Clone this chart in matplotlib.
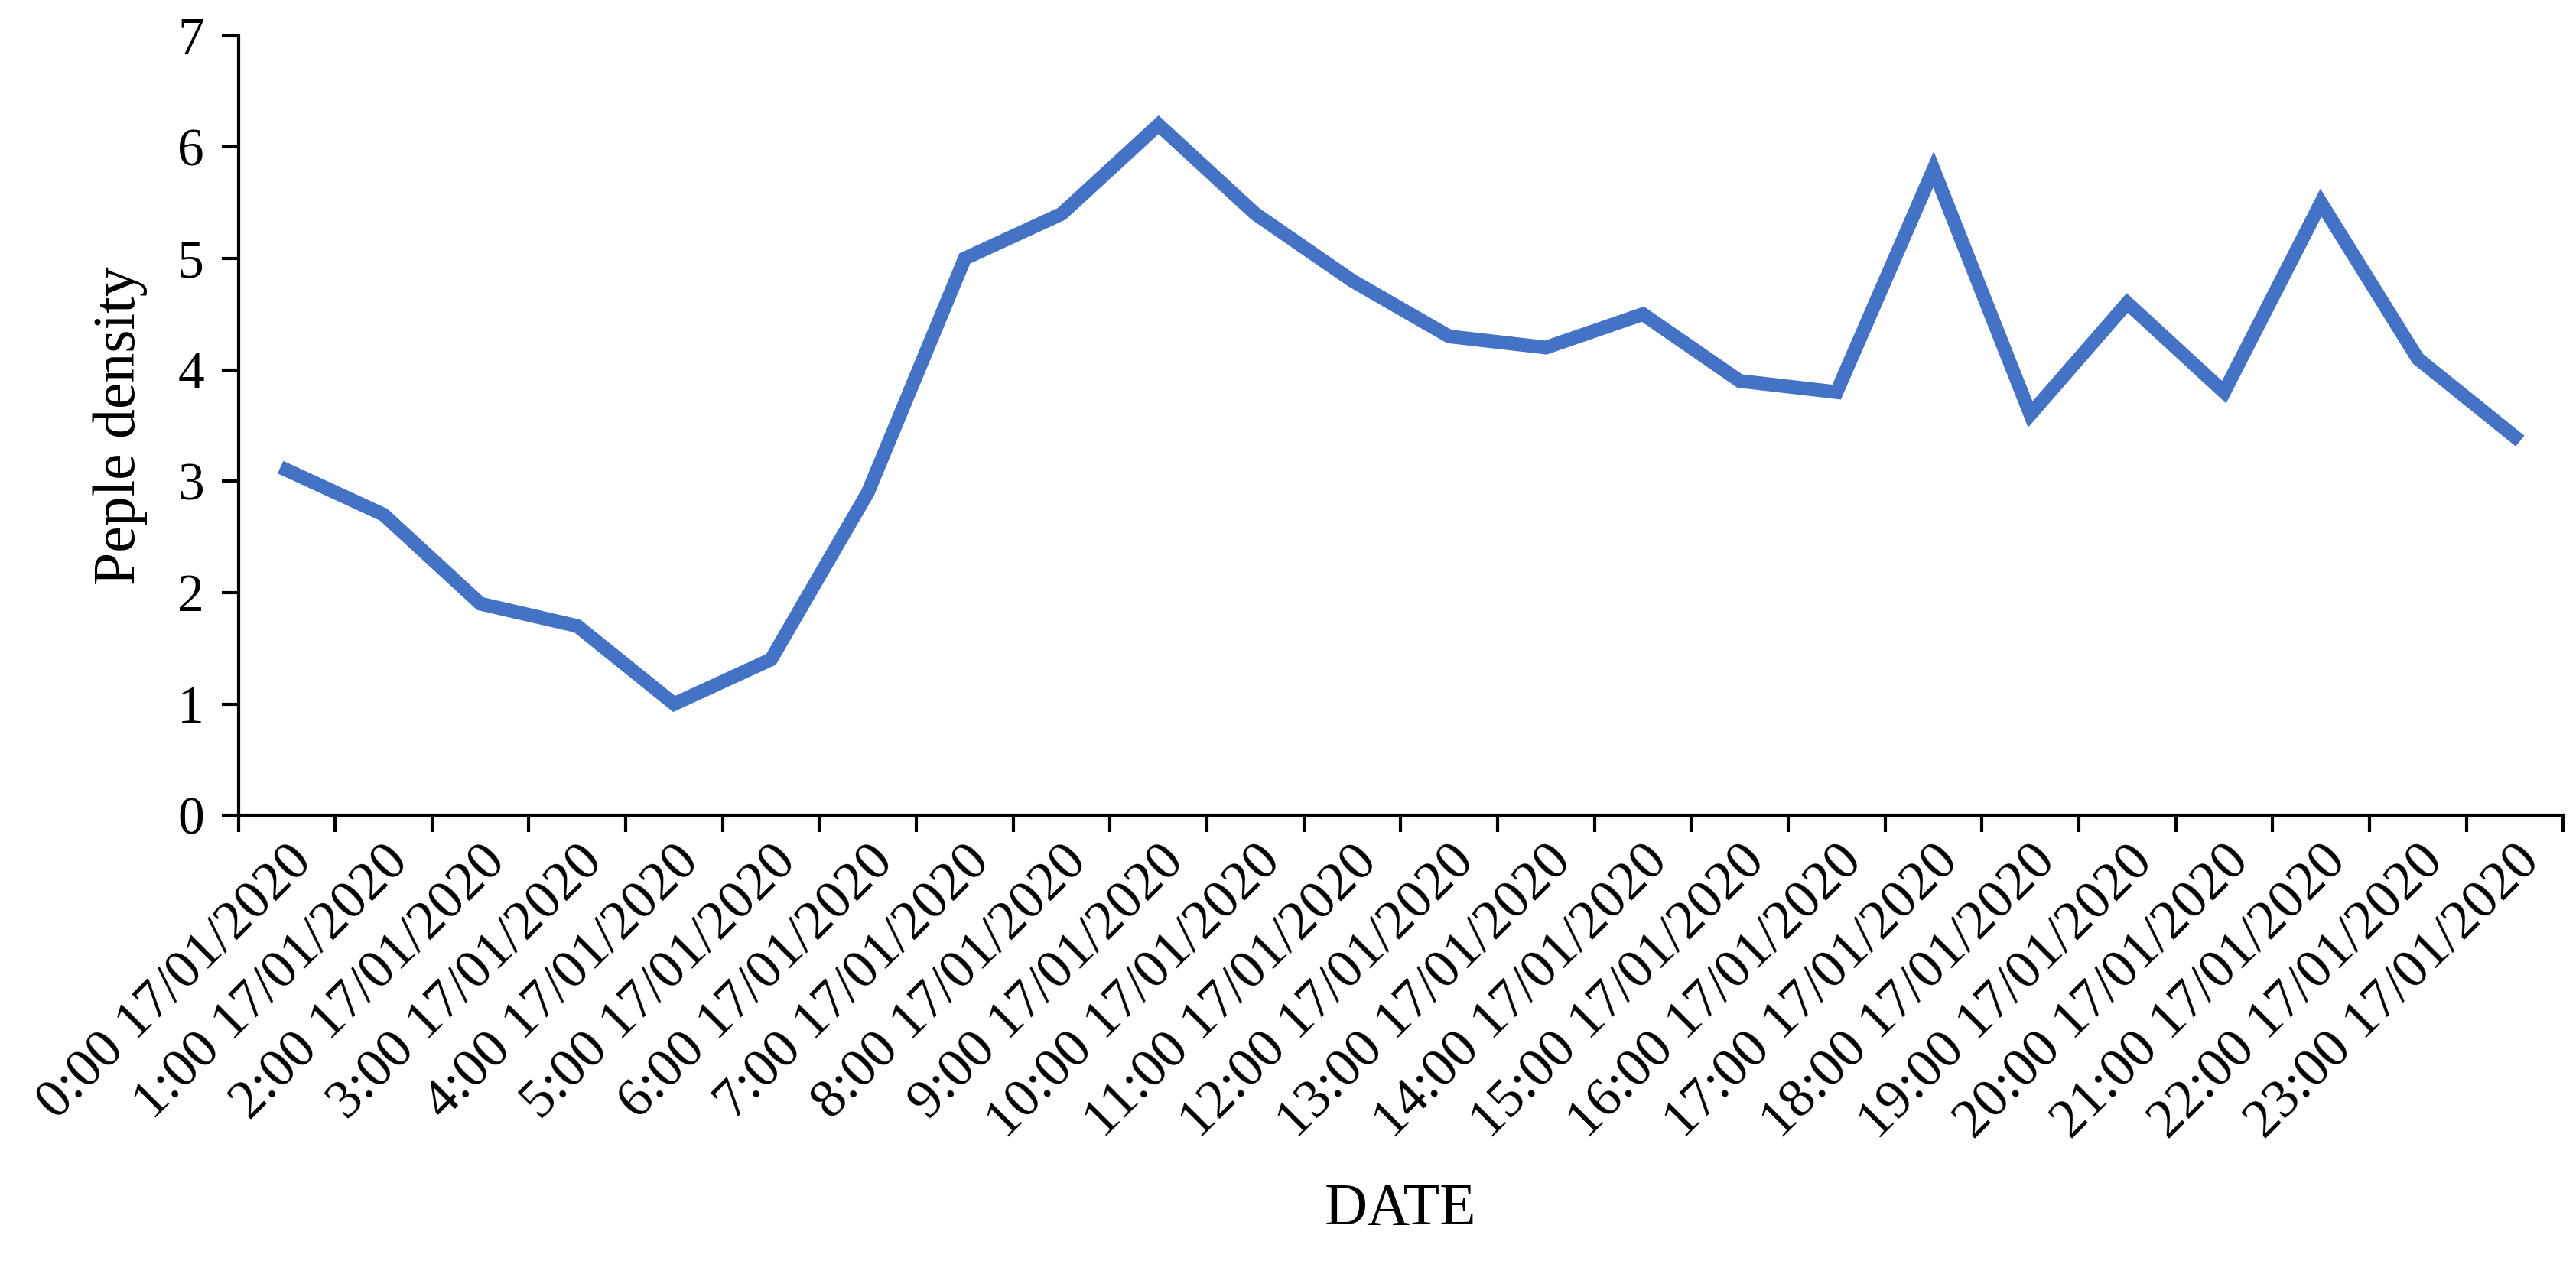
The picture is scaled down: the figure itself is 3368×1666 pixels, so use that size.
import matplotlib
matplotlib.use("Agg")
import matplotlib.pyplot as plt
from matplotlib.ticker import FixedLocator

plt.rcParams['font.family'] = ['Liberation Serif', 'DejaVu Serif']

hours = [f"{h}:00 17/01/2020" for h in range(24)]
density = [3.1, 2.7, 1.9, 1.7, 1.0, 1.4, 2.9, 5.0, 5.4, 6.2, 5.4, 4.8,
           4.3, 4.2, 4.5, 3.9, 3.8, 5.8, 3.6, 4.6, 3.8, 5.5, 4.1, 3.4]

fig = plt.figure(figsize=(16.84, 8.33), dpi=200)
ax = fig.add_axes([0.0925, 0.36, 0.9025, 0.612])
x = list(range(len(hours)))
ax.plot(x, density, color='#4472C4', lw=6.5, solid_joinstyle='miter')
ax.set_xlim(-0.5, len(hours) - 0.5)
ax.set_ylim(0, 7)
ax.set_yticks(range(8))
ax.set_xticks(x)
ax.set_xticklabels(hours, rotation=45, ha='right', rotation_mode='anchor', fontsize=26)
ax.tick_params(axis='x', which='major', length=0, pad=10)
ax.xaxis.set_minor_locator(FixedLocator([i + 0.5 for i in range(-1, len(hours))]))
ax.tick_params(axis='x', which='minor', length=8, width=1.5, direction='out')
ax.tick_params(axis='y', labelsize=25, length=8, width=1.5, direction='out', pad=8)
for s in ['top', 'right']:
    ax.spines[s].set_visible(False)
for s in ['left', 'bottom']:
    ax.spines[s].set_linewidth(1.5)
ax.set_ylabel('Peple density', fontsize=28, labelpad=14)
ax.set_xlabel('DATE', fontsize=28, labelpad=16)
fig.savefig('out.png', dpi=200)
